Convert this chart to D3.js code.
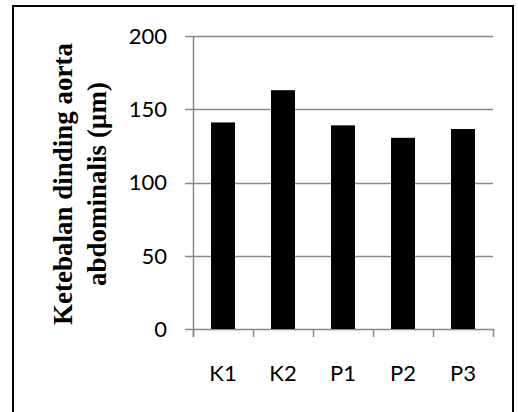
<!DOCTYPE html>
<html><head><meta charset="utf-8">
<script src="https://cdn.jsdelivr.net/npm/d3@7"></script>
<style>body{margin:0;background:#fff;} svg{display:block;}</style>
</head><body>
<script>
const categories = ["K1","K2","P1","P2","P3"];
const values = [141, 163, 139, 130.5, 136.5];
const yTicks = [0, 50, 100, 150, 200];
const titleLines = ["Ketebalan dinding aorta", "abdominalis (µm)"];

(function(){
const W = 518, H = 412;
const svg = d3.select("body").append("svg").attr("width", W).attr("height", H);
svg.append("rect").attr("width", W).attr("height", H).attr("fill", "#fff");

svg.append("rect").attr("x", 13).attr("y", 6).attr("width", 500).attr("height", 420)
  .attr("fill", "none").attr("stroke", "#000").attr("stroke-width", 2);

const pL = 193, pR = 493, pT = 36, pB = 329;
const x = d3.scaleBand().domain(categories).range([pL, pR]).paddingInner(0.6).paddingOuter(0.3);
const y = d3.scaleLinear().domain([0, 200]).range([pB, pT]);
const grid = "#898989";
const sans = "Lato, 'Open Sans', sans-serif";

const gy = svg.append("g").attr("transform", `translate(${pL},0)`);
gy.selectAll("line").data(yTicks).join("line")
  .attr("x1", -8).attr("x2", pR - pL).attr("y1", d => Math.round(y(d)) + 0.5).attr("y2", d => Math.round(y(d)) + 0.5)
  .attr("stroke", grid).attr("stroke-width", 1.5);
gy.selectAll("text").data(yTicks).join("text")
  .attr("x", -26).attr("y", d => y(d)).attr("dy", "0.36em")
  .attr("text-anchor", "end").attr("font-family", sans).attr("font-size", 22)
  .attr("fill", "#000").text(d => d);

svg.append("line").attr("x1", pL + 0.5).attr("x2", pL + 0.5).attr("y1", pT).attr("y2", pB + 8)
  .attr("stroke", grid).attr("stroke-width", 1.5);

const step = (pR - pL) / categories.length;
const bounds = d3.range(categories.length + 1).map(i => pL + i * step);
svg.append("g").selectAll("line").data(bounds).join("line")
  .attr("x1", d => Math.round(d) + 0.5).attr("x2", d => Math.round(d) + 0.5)
  .attr("y1", pB).attr("y2", pB + 8).attr("stroke", grid).attr("stroke-width", 1.5);

svg.append("g").selectAll("rect").data(values).join("rect")
  .attr("x", (d, i) => x(categories[i])).attr("width", x.bandwidth())
  .attr("y", d => y(d)).attr("height", d => pB - y(d)).attr("fill", "#000");

svg.append("g").selectAll("text").data(categories).join("text")
  .attr("x", d => x(d) + x.bandwidth() / 2).attr("y", 381)
  .attr("text-anchor", "middle").attr("font-family", sans).attr("font-size", 22)
  .attr("fill", "#000").text(d => d);

const t = svg.append("text").attr("transform", "translate(72,184) rotate(-90)")
  .attr("text-anchor", "middle").attr("font-family", "'Liberation Serif', 'Times New Roman', serif")
  .attr("font-weight", "bold").attr("font-size", 27).attr("fill", "#000");
titleLines.forEach((l, i) => t.append("tspan").attr("x", 0).attr("dy", i === 0 ? 0 : 34).text(l));
})();
</script>
</body></html>
